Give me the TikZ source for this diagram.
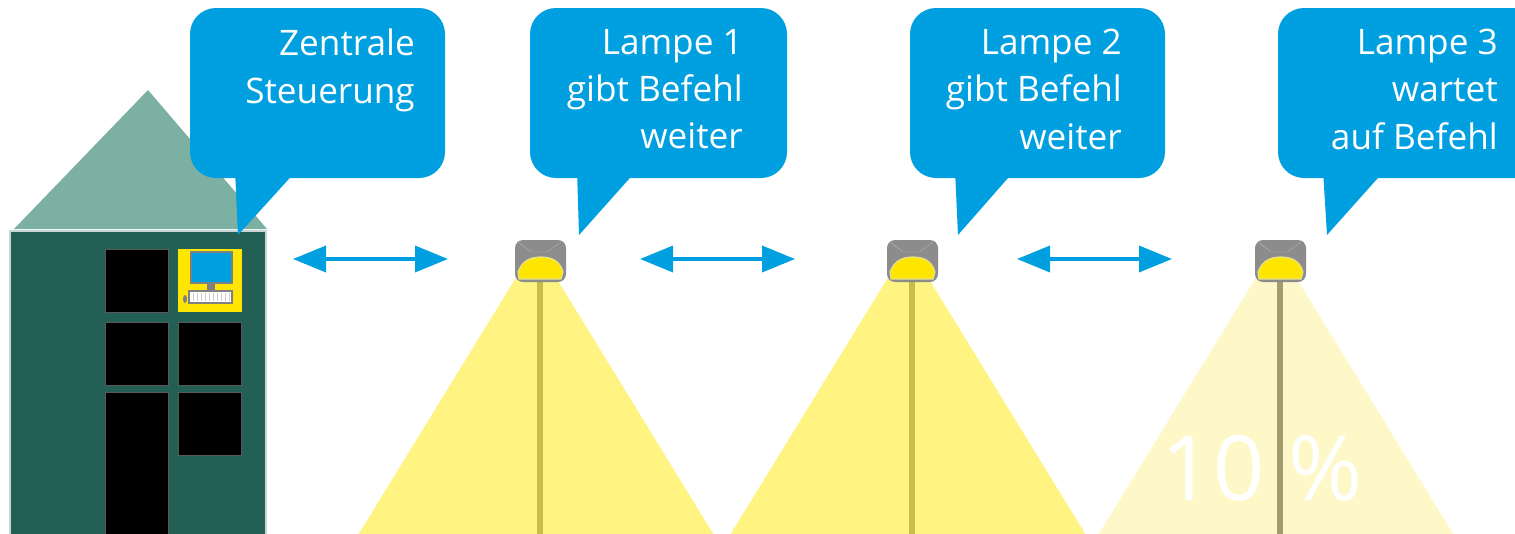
\documentclass[tikz,border=0pt]{standalone}
\usepackage{fontspec}
\setmainfont{Open Sans}
\usetikzlibrary{arrows.meta}

\definecolor{bubbleblue}{HTML}{009FDF}
\definecolor{roofgreen}{HTML}{7BB0A2}
\definecolor{housegreen}{HTML}{245F55}
\definecolor{litcone}{HTML}{FFF382}
\definecolor{dimcone}{HTML}{FEF8C9}
\definecolor{litpole}{HTML}{C9BC4A}
\definecolor{dimpole}{HTML}{A29D6E}
\definecolor{lampgray}{HTML}{8C8C8C}
\definecolor{bulb}{HTML}{FFE600}

\begin{document}
\begin{tikzpicture}[x=0.25mm,y=-0.25mm]
	\tikzstyle{bubble}=[fill=bubbleblue,rounded corners=6.5mm]
	\tikzstyle{tail}=[fill=bubbleblue]
	\tikzstyle{say}=[text=white,align=right,anchor=north east,inner sep=0pt,font=\fontsize{25}{33.6}\selectfont]
	\tikzstyle{window}=[fill=black,draw=gray!70!black,line width=0.2mm]
	\tikzstyle{link}=[draw=bubbleblue,line width=0.9mm,{Triangle[length=8.25mm,width=6.5mm]}-{Triangle[length=8.25mm,width=6.5mm]}]
	\tikzstyle{lamphead}=[fill=lampgray,rounded corners=2mm]
	\tikzstyle{facet}=[draw=lampgray!70!white,line width=0.12mm]
	\tikzstyle{dome}=[fill=bulb,draw=yellow!60!gray!60,line width=0.3mm]
	\useasboundingbox (0,0) rectangle (1515,533);

	% light cones
	\foreach \x/\c in {540/litcone,912/litcone,1280/dimcone}
		\fill[\c] (\x-4,245) -- (\x-185,540) -- (\x+177,540) -- cycle;
	\node[text=white,anchor=base,inner sep=0pt,font=\fontsize{64}{64}\selectfont] (dimmung) at (1262,500) {10 \%};

	% house
	\fill[roofgreen] (148,90) -- (14,229) -- (267,229) -- cycle;
	\filldraw[fill=housegreen,draw=white!75!housegreen,line width=0.4mm] (10,231) rectangle (266,545);
	\foreach \x/\y in {105/249,105/322,178/322,178/392}
		\filldraw[window] (\x,\y) rectangle +(63,63);
	\filldraw[window] (105,392) rectangle (168,545);
	% control computer
	\fill[bulb] (178,249) rectangle (242,312);
	\filldraw[fill=bubbleblue,draw=gray,line width=0.5mm] (191,252) rectangle (232,283);
	\fill[gray] (207,283) rectangle (215,290);
	\filldraw[fill=white,draw=gray,line width=0.3mm] (189,291) rectangle (232,303);
	\foreach \k in {193,197,...,229}
		\draw[gray!40,line width=0.1mm] (\k,293) -- (\k,301);
	\fill[gray] (185,299) ellipse (2 and 4);

	% lamps
	\foreach \x/\p in {540/litpole,912/litpole,1280/dimpole} {
		\fill[\p] (\x-3,275) rectangle (\x+3,545);
		\fill[lamphead] (\x-25,240) rectangle (\x+26,282);
		\draw[facet] (\x-22,242) -- (\x-9,252) -- (\x+7,252) -- (\x+21,242);
		\filldraw[dome] (\x-21,279) -- (\x-22,272) .. controls (\x-18,261) and (\x-10,257) .. (\x+1,257)
			.. controls (\x+12,257) and (\x+20,261) .. (\x+23,272) -- (\x+21,279) -- cycle;
	}

	% speech bubbles
	\fill[bubble] (190,8) rectangle (445,178);
	\fill[tail] (235,170) -- (238,235) -- (297,170) -- cycle;
	\fill[bubble] (530,8) rectangle (787,178);
	\fill[tail] (577,170) -- (579,235) -- (637,170) -- cycle;
	\fill[bubble] (910,8) rectangle (1165,178);
	\fill[tail] (955,170) -- (958,235) -- (1015,170) -- cycle;
	\fill[bubble] (1278,8) rectangle (1545,178);
	\fill[tail] (1323,170) -- (1327,235) -- (1385,170) -- cycle;

	\node[say] (zentrale) at (415,29) {Zentrale\\Steuerung};
	\node[say] (lampe1) at (743,29) {Lampe 1\\gibt Befehl\\weiter};
	\node[say] (lampe2) at (1122,29) {Lampe 2\\gibt Befehl\\weiter};
	\node[say] (lampe3) at (1498,29) {Lampe 3\\wartet\\auf Befehl};

	% command links
	\coordinate (z) at (293,259);
	\coordinate (l1w) at (448,259);
	\coordinate (l1e) at (640,259);
	\coordinate (l2w) at (795,259);
	\coordinate (l2e) at (1017,259);
	\coordinate (l3w) at (1172,259);
	\draw[link] (z) -- (l1w);
	\draw[link] (l1e) -- (l2w);
	\draw[link] (l2e) -- (l3w);
\end{tikzpicture}
\end{document}
